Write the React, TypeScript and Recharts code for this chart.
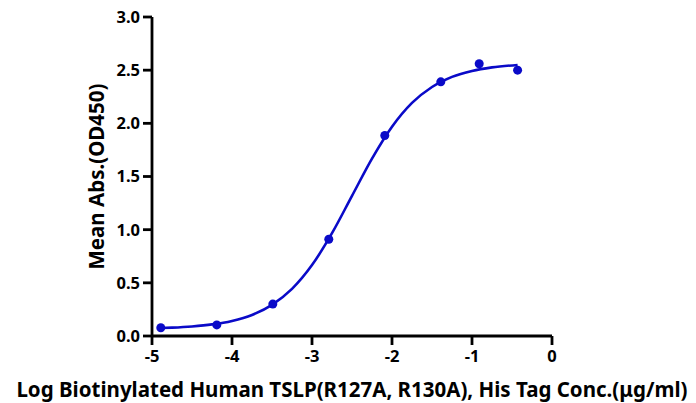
import { ComposedChart, Line, Scatter, XAxis, YAxis } from "recharts";

// measured points (log conc, OD450)
const logConc = [-4.89, -4.19, -3.49, -2.79, -2.09, -1.39, -0.91, -0.43];
const meanAbs = [0.078, 0.104, 0.3, 0.91, 1.886, 2.39, 2.56, 2.5];

// fitted curve
const curveX = [
  -4.89, -4.75, -4.5, -4.25, -4.0, -3.75, -3.5, -3.25, -3.0, -2.75, -2.5,
  -2.25, -2.0, -1.75, -1.5, -1.25, -1.0, -0.75, -0.43,
];
const curveY = [
  0.075, 0.079, 0.09, 0.109, 0.142, 0.198, 0.293, 0.443, 0.667, 0.967, 1.318,
  1.668, 1.968, 2.192, 2.342, 2.437, 2.493, 2.526, 2.549,
];

const xTicks = [-5, -4, -3, -2, -1, 0];
const yTicks = [0, 0.5, 1, 1.5, 2, 2.5, 3];

const BLUE = "#0a0ac8";
const FONT = "'Noto Sans', sans-serif";

const points = logConc.map((x, i) => ({ x, y: meanAbs[i] }));
const curve = curveX.map((x, i) => ({ x, y: curveY[i] }));

const tickStyle = { fontSize: 16.5, fontWeight: 700, fill: "#000", fontFamily: FONT };
const titleStyle = { fontSize: 20.5, fontWeight: 700, fill: "#000", fontFamily: FONT };

export default function App() {
  return (
    <div style={{ width: 696, height: 403, background: "#fff" }}>
      <style>{`body{margin:0}`}</style>
      <ComposedChart
        width={696}
        height={403}
        margin={{ top: 17, right: 144, bottom: 27, left: 92 }}
      >
        <XAxis
          type="number"
          dataKey="x"
          domain={[-5, 0]}
          ticks={xTicks}
          allowDataOverflow
          stroke="#000"
          strokeWidth={2.8}
          tickSize={9}
          tickMargin={5}
          tick={tickStyle}
          height={40}
          label={{
            value: "Log Biotinylated Human TSLP(R127A, R130A), His Tag Conc.(μg/ml)",
            position: "insideBottom",
            offset: -21,
            style: titleStyle,
          }}
        />
        <YAxis
          type="number"
          dataKey="y"
          domain={[0, 3]}
          ticks={yTicks}
          allowDataOverflow
          stroke="#000"
          strokeWidth={2.8}
          tickSize={9}
          tickMargin={3}
          tick={tickStyle}
          tickFormatter={(v) => Number(v).toFixed(1)}
          width={60}
          label={{
            value: "Mean Abs.(OD450)",
            angle: -90,
            position: "insideLeft",
            offset: 5,
            style: { ...titleStyle, textAnchor: "middle" },
          }}
        />
        <Line
          data={curve}
          dataKey="y"
          type="monotone"
          stroke={BLUE}
          strokeWidth={2.6}
          dot={false}
          activeDot={false}
          isAnimationActive={false}
        />
        <Scatter
          data={points}
          dataKey="y"
          fill={BLUE}
          shape={(p: any) => <circle cx={p.cx} cy={p.cy} r={4.5} fill={BLUE} />}
          isAnimationActive={false}
        />
      </ComposedChart>
    </div>
  );
}
